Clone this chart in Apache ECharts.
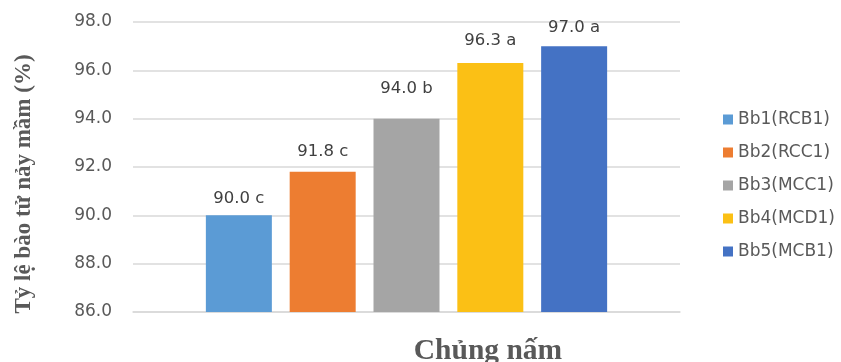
<!DOCTYPE html>
<html>
<head>
<meta charset="utf-8">
<script src="https://cdn.jsdelivr.net/npm/echarts@6/dist/echarts.min.js"></script>
<style>html,body{margin:0;padding:0;background:#fff;}#chart{width:841px;height:362px;}</style>
</head>
<body>
<div id="chart"></div>
<script>
const strainNames = ['Bb1(RCB1)', 'Bb2(RCC1)', 'Bb3(MCC1)', 'Bb4(MCD1)', 'Bb5(MCB1)'];
const germinationRate = [90.0, 91.8, 94.0, 96.3, 97.0];
const significanceLetters = ['c', 'c', 'b', 'a', 'a'];
const yTicks = [86, 88, 90, 92, 94, 96, 98];

const colors = ['#5B9BD5', '#ED7D31', '#A5A5A5', '#FBC015', '#4472C4'];
const labelDistance = [8, 12, 21, 14, 10];

const chart = echarts.init(document.getElementById('chart'), null, {renderer: 'canvas'});
const series = strainNames.map((name, i) => ({
  name: name,
  type: 'bar',
  data: [germinationRate[i]],
  barWidth: 66,
  barGap: '27%',
  itemStyle: {color: colors[i]},
  label: {
    show: true,
    position: 'top',
    distance: labelDistance[i],
    formatter: () => germinationRate[i].toFixed(1) + ' ' + significanceLetters[i],
    color: '#404040',
    fontFamily: 'DejaVu Sans',
    fontSize: 16.5
  }
}));

chart.setOption({
  animation: false,
  backgroundColor: '#fff',
  grid: {left: 133, right: 161, top: 22, bottom: 50, outerBoundsMode: 'none'},
  legend: {
    orient: 'vertical',
    left: 718,
    top: 106,
    itemWidth: 10,
    itemHeight: 10,
    itemGap: 16,
    icon: 'rect',
    data: strainNames,
    textStyle: {color: '#595959', fontFamily: 'DejaVu Sans', fontSize: 17}
  },
  xAxis: {
    type: 'category',
    data: [''],
    name: 'Chủng nấm',
    nameLocation: 'middle',
    nameGap: 24,
    nameTextStyle: {fontFamily: 'Liberation Serif', fontWeight: 'bold', fontSize: 29.5, color: '#595959', padding: [0, 0, 0, 163]},
    axisLine: {show: true, lineStyle: {color: '#D9D9D9', width: 1.5}},
    axisTick: {show: false},
    axisLabel: {show: false}
  },
  yAxis: {
    type: 'value',
    min: yTicks[0],
    max: yTicks[yTicks.length - 1],
    interval: yTicks[1] - yTicks[0],
    name: 'Tỷ lệ bào tử nảy mầm (%)',
    nameLocation: 'middle',
    nameGap: 97,
    nameRotate: 90,
    nameTextStyle: {fontFamily: 'Liberation Serif', fontWeight: 'bold', fontSize: 23, color: '#595959', padding: [0, 34, 0, 0]},
    axisLine: {show: false},
    axisTick: {show: false},
    axisLabel: {
      formatter: v => v.toFixed(1),
      color: '#595959',
      fontFamily: 'DejaVu Sans',
      fontSize: 17,
      margin: 21
    },
    splitLine: {lineStyle: {color: '#D9D9D9', width: 1.5}}
  },
  series: series
});
</script>
</body>
</html>
